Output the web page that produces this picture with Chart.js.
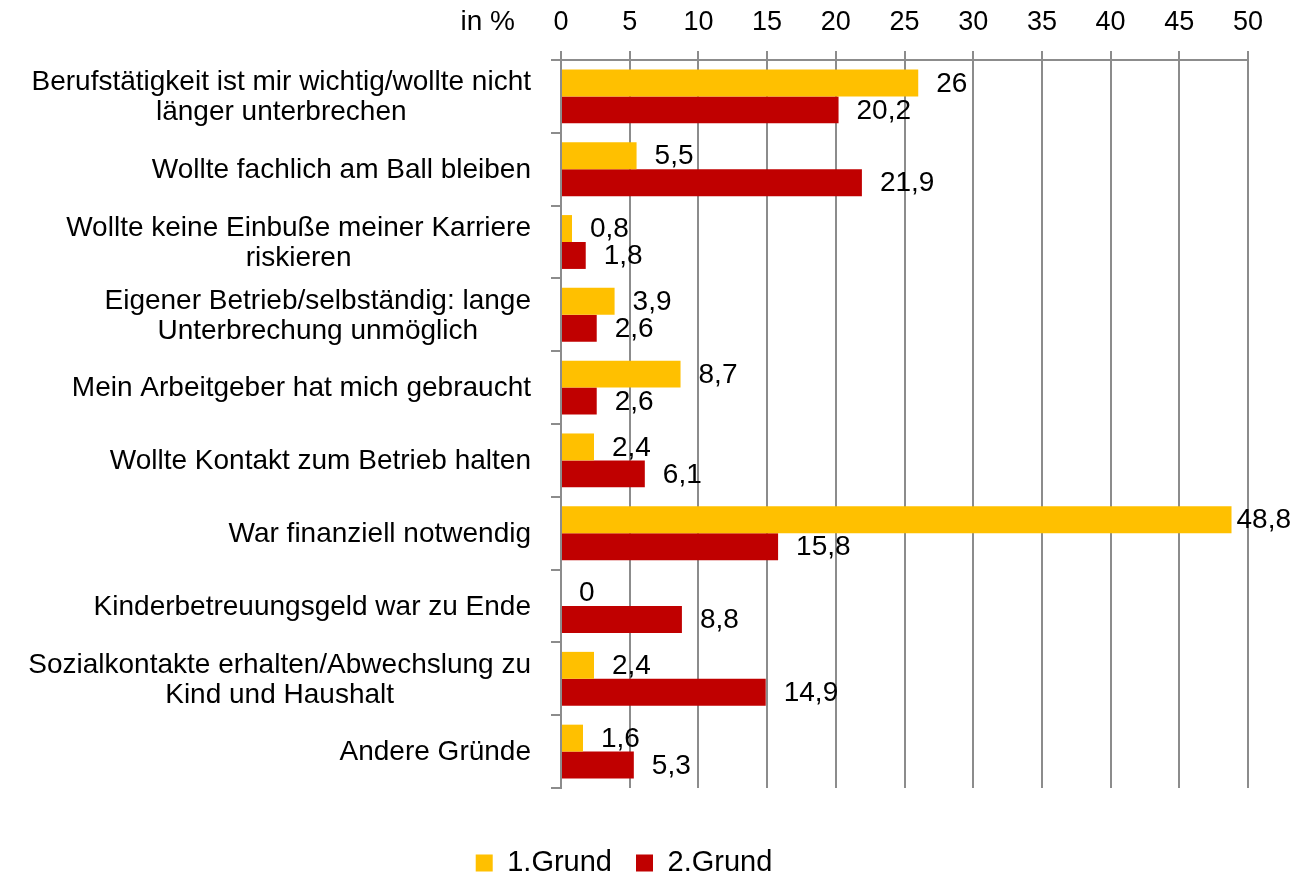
<!DOCTYPE html>
<html>
<head>
<meta charset="utf-8">
<script src="https://cdn.jsdelivr.net/npm/chart.js@4.4.0/dist/chart.umd.min.js"></script>
<style>
  body { margin: 0; background: #fff; }
  canvas { display: block; }
</style>
</head>
<body>
<canvas id="myChart" width="1296" height="878"></canvas>
<script>
var categories = [
    ['Berufstätigkeit ist mir wichtig/wollte nicht', 'länger unterbrechen'],
    'Wollte fachlich am Ball bleiben',
    ['Wollte keine Einbuße meiner Karriere', 'riskieren'],
    ['Eigener Betrieb/selbständig: lange', 'Unterbrechung unmöglich'],
    'Mein Arbeitgeber hat mich gebraucht',
    'Wollte Kontakt zum Betrieb halten',
    'War finanziell notwendig',
    'Kinderbetreuungsgeld war zu Ende',
    ['Sozialkontakte erhalten/Abwechslung zu', 'Kind und Haushalt'],
    'Andere Gründe'
];
var grund1 = [26, 5.5, 0.8, 3.9, 8.7, 2.4, 48.8, 0, 2.4, 1.6];
var grund2 = [20.2, 21.9, 1.8, 2.6, 2.6, 6.1, 15.8, 8.8, 14.9, 5.3];
var seriesNames = ['1.Grund', '2.Grund'];
var axisUnit = 'in %';

var FONT = '"Liberation Sans", Arial, sans-serif';
var GRID = '#8c8c8c';

// category labels (centered lines, block right aligned) + value labels + "in %"
var textPlugin = {
    id: 'textPlugin',
    afterDraw: function (chart) {
        var ctx = chart.ctx;
        var xs = chart.scales.x, ys = chart.scales.y;
        ctx.save();
        ctx.fillStyle = '#000';
        ctx.textBaseline = 'middle';

        ctx.font = '28px ' + FONT;
        ctx.textAlign = 'center';
        categories.forEach(function (c, i) {
            var lines = Array.isArray(c) ? c : [c];
            var w = Math.max.apply(null, lines.map(function (l) { return ctx.measureText(l).width; }));
            var cx = ys.right - 30 - w / 2;
            var cy = ys.getPixelForValue(i) + 1;
            lines.forEach(function (l, j) {
                ctx.fillText(l, cx, cy + (j - (lines.length - 1) / 2) * 30);
            });
        });

        ctx.font = '28px ' + FONT;
        ctx.textAlign = 'right';
        ctx.fillText(axisUnit, xs.left - 46, xs.bottom - 38);

        ctx.font = '28px ' + FONT;
        ctx.textAlign = 'left';
        chart.data.datasets.forEach(function (ds, di) {
            chart.getDatasetMeta(di).data.forEach(function (bar, i) {
                var txt = String(ds.data[i]).replace('.', ',');
                var w = ctx.measureText(txt).width;
                var x = bar.x + 18;
                if (x + w > chart.width - 5) x = chart.width - 5 - w;
                ctx.fillText(txt, x, bar.y + 1);
            });
        });
        ctx.restore();
    }
};

var ctx = document.getElementById('myChart').getContext('2d');
var myBarChart = new Chart(ctx, {
    type: 'bar',
    data: {
        labels: categories,
        datasets: [{
            label: seriesNames[0],
            data: grund1,
            backgroundColor: '#FFC000',
            borderWidth: 0
        }, {
            label: seriesNames[1],
            data: grund2,
            backgroundColor: '#C00000',
            borderWidth: 0
        }]
    },
    options: {
        indexAxis: 'y',
        responsive: false,
        animation: false,
        datasets: {
            bar: {
                categoryPercentage: 0.74,
                barPercentage: 1.0
            }
        },
        layout: {
            padding: { left: 0, right: 48, top: 0, bottom: -9.5 }
        },
        scales: {
            x: {
                position: 'top',
                min: 0,
                max: 50,
                ticks: {
                    stepSize: 5,
                    color: '#000',
                    padding: 12,
                    font: { family: FONT, size: 27 }
                },
                grid: {
                    color: GRID,
                    lineWidth: 2,
                    tickLength: 9
                },
                border: { color: GRID, width: 2 },
                afterFit: function (scale) { scale.height = 60; }
            },
            y: {
                ticks: { display: false },
                grid: {
                    color: GRID,
                    lineWidth: 2,
                    drawOnChartArea: false,
                    tickLength: 10
                },
                border: { color: GRID, width: 2 },
                afterFit: function (scale) { scale.width = 561; }
            }
        },
        plugins: {
            tooltip: { enabled: false },
            legend: {
                position: 'bottom',
                title: {
                    display: true,
                    text: ' ',
                    font: { size: 10, lineHeight: 1 },
                    padding: { top: 26.5, bottom: 0 }
                },
                labels: {
                    color: '#000',
                    boxWidth: 17,
                    boxHeight: 17,
                    padding: 24,
                    font: { family: FONT, size: 29 }
                }
            }
        }
    },
    plugins: [textPlugin]
});
</script>
</body>
</html>
